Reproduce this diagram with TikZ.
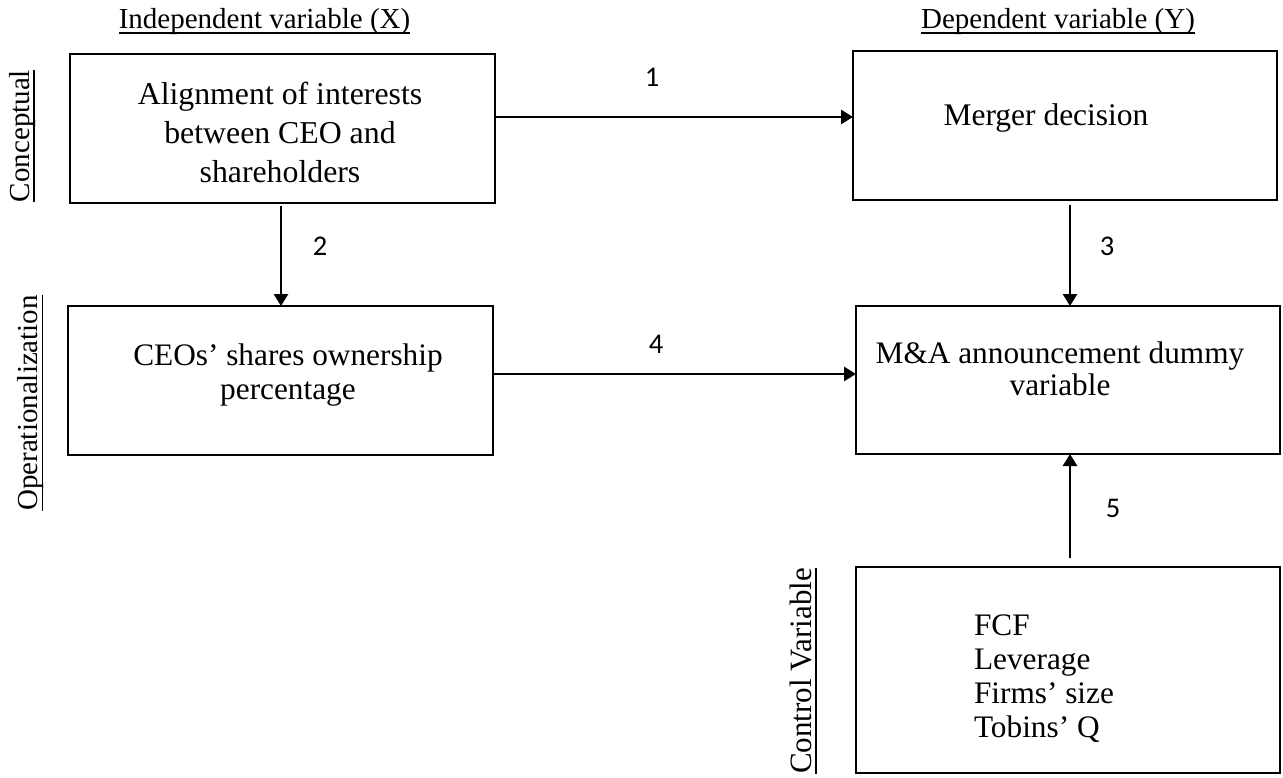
\documentclass[tikz,border=0pt]{standalone}
\usepackage{fontspec}
\setmainfont{Liberation Serif}
\newfontfamily\numfont{Carlito}
\usetikzlibrary{arrows.meta}
\tikzset{
  box/.style={draw=black, line width=1.3pt, rectangle, inner sep=0pt, outer sep=0pt},
  arr/.style={line width=2.8pt, -{Triangle[width=14pt,length=12pt]}},
  txt/.style={inner sep=0pt, outer sep=0pt},
  hdr/.style={inner sep=0pt, outer sep=0pt, font=\fontsize{29}{34}\selectfont},
  side/.style={inner sep=0pt, outer sep=0pt, rotate=90, anchor=base},
  ul/.style={line width=1.4pt},
  num/.style={inner sep=0pt, outer sep=0pt, anchor=base, font=\numfont\fontsize{28.5}{34}\selectfont},
}
\begin{document}
\begin{tikzpicture}[x=1pt,y=-1pt]
\useasboundingbox (0,0) rectangle (1283,777);

% boxes
\node[box, minimum width=425pt, minimum height=149pt] (A) at (282.5,128.5) {};
\node[box, minimum width=424pt, minimum height=149pt] (B) at (1065,125.5) {};
\node[box, minimum width=425pt, minimum height=149pt] (C) at (280.5,380.5) {};
\node[box, minimum width=424pt, minimum height=148pt] (D) at (1068,380) {};
\node[box, minimum width=424pt, minimum height=206pt] (E) at (1068,670) {};

% box texts
\node[txt, anchor=base] (tA) at (280,104) {\fontsize{31.8}{39}\selectfont\begin{tabular}[t]{@{}c@{}}Alignment of interests\\between CEO and\\shareholders\end{tabular}};
\node[txt, anchor=base] (tB) at (1046,125) {\fontsize{31.5}{39}\selectfont Merger decision};
\node[txt, anchor=base] (tC) at (288,365) {\fontsize{31.3}{34}\selectfont\begin{tabular}[t]{@{}c@{}}CEOs’ shares ownership\\percentage\end{tabular}};
\node[txt, anchor=base] (tD) at (1060,363) {\fontsize{31.3}{32}\selectfont\begin{tabular}[t]{@{}c@{}}M\&A announcement dummy\\variable\end{tabular}};
\node[txt, anchor=base west] (tE) at (974,635) {\fontsize{31.3}{34}\selectfont\begin{tabular}[t]{@{}l@{}}FCF\\Leverage\\Firms’ size\\Tobins’ Q\end{tabular}};

% headers
\node[hdr, anchor=base] (hX) at (264.5,28) {Independent variable (X)};
\draw[ul] ([yshift=-5pt]hX.base west) -- ([yshift=-5pt]hX.base east);
\node[hdr, anchor=base] (hY) at (1058,28) {Dependent variable (Y)};
\draw[ul] ([yshift=-5pt]hY.base west) -- ([yshift=-5pt]hY.base east);

% side labels
\node[side, font=\fontsize{29}{34}\selectfont] (lc) at (29,136) {Conceptual};
\draw[ul] ([xshift=5pt]lc.base west) -- ([xshift=5pt]lc.base east);
\node[side, font=\fontsize{29}{34}\selectfont] (lo) at (37,403) {Operationalization};
\draw[ul] ([xshift=5.5pt]lo.base west) -- ([xshift=5.5pt]lo.base east);
\node[side, font=\fontsize{31}{36}\selectfont] (lv) at (811,671) {Control Variable};
\draw[ul] ([xshift=5pt]lv.base west) -- ([xshift=5pt]lv.base east);

% connector helpers
\coordinate (r1) at (0,117);
\coordinate (r4) at (0,374);
\coordinate (c2) at (281,0);
\coordinate (c3) at (1070,0);

% arrows
\draw[arr] (A.east |- r1) -- (B.west |- r1);
\draw[arr] (C.east |- r4) -- (D.west |- r4);
\draw[arr, shorten <=2.5pt] (c2 |- A.south) -- (c2 |- C.north);
\draw[arr, shorten <=4.5pt] (c3 |- B.south) -- (c3 |- D.north);
\draw[arr, shorten <=9pt] (c3 |- E.north) -- (c3 |- D.south);

% arrow labels
\node[num] (n1) at (652,86) {1};
\node[num] (n2) at (320,255) {2};
\node[num] (n3) at (1107,255) {3};
\node[num] (n4) at (656,353) {4};
\node[num] (n5) at (1113,517) {5};
\end{tikzpicture}
\end{document}
